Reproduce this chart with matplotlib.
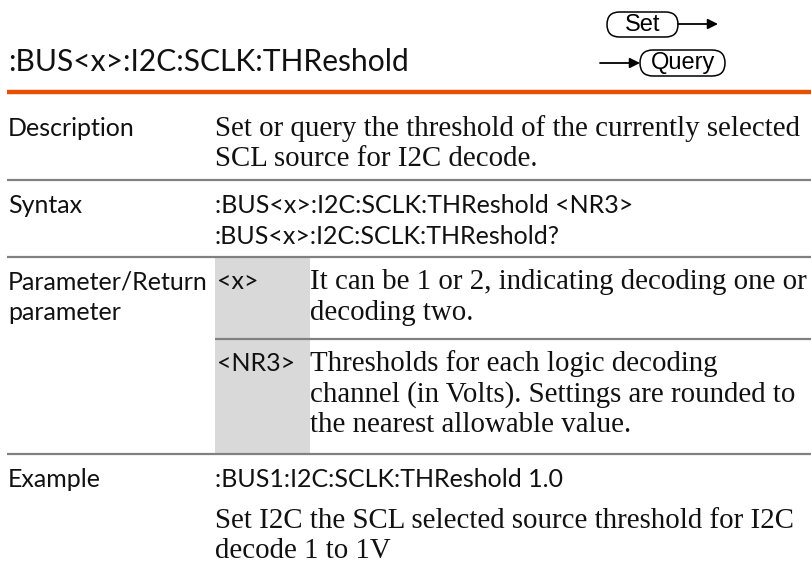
import matplotlib
matplotlib.use("Agg")
import matplotlib.pyplot as plt
from matplotlib.patches import FancyBboxPatch, Rectangle

# page content
title = ":BUS<x>:I2C:SCLK:THReshold"
row_labels = ["Description", "Syntax", "Parameter/Return", "parameter", "Example"]
desc_lines = ["Set or query the threshold of the currently selected",
              "SCL source for I2C decode."]
syntax_lines = [":BUS<x>:I2C:SCLK:THReshold <NR3>",
                ":BUS<x>:I2C:SCLK:THReshold?"]
param_names = ["<x>", "<NR3>"]
param_x_lines = ["It can be 1 or 2, indicating decoding one or",
                 "decoding two."]
param_nr3_lines = ["Thresholds for each logic decoding",
                   "channel (in Volts). Settings are rounded to",
                   "the nearest allowable value."]
example_cmd = ":BUS1:I2C:SCLK:THReshold 1.0"
example_lines = ["Set I2C the SCL selected source threshold for I2C",
                 "decode 1 to 1V"]
tag_set = "Set"
tag_query = "Query"

W, H = 812, 566
SANS = "Lato"
SERIF = "Liberation Serif"
ORANGE = "#E65100"
RULE = "#808080"
CELL = "#D9D9D9"
INK = "#111111"
LS = 30.5  # line spacing in px
SANS_PT = 18
SERIF_PT = 20.8

fig = plt.figure(figsize=(W / 100, H / 100), dpi=100)
ax = fig.add_axes([0, 0, 1, 1])
ax.set_xlim(0, W)
ax.set_ylim(H, 0)
ax.axis('off')


def lines(x, y0, txt, family, size):
    for i, t in enumerate(txt):
        ax.text(x, y0 + i * LS, t, family=family, fontsize=size,
                va='baseline', ha='left', color=INK)


# header
ax.text(8, 71, title, family=SANS, fontsize=21.6, va='baseline', color=INK)
ax.plot([7, W], [92, 92], color=ORANGE, lw=3.2, solid_capstyle='butt')

# set / query tags
ax.add_patch(FancyBboxPatch((607, 12), 71, 25, boxstyle="round,pad=0,rounding_size=12.5",
                            fc='white', ec='black', lw=1.1))
ax.text(643, 25, tag_set, family="Liberation Sans", fontsize=17, ha='center', va='center')
ax.annotate('', xy=(718, 24), xytext=(678, 24),
            arrowprops=dict(arrowstyle='-|>,head_length=0.6,head_width=0.3',
                            color='black', lw=1.3, shrinkA=0, shrinkB=0))
ax.add_patch(FancyBboxPatch((640, 50), 85, 26, boxstyle="round,pad=0,rounding_size=13",
                            fc='white', ec='black', lw=1.1))
ax.text(683, 63, tag_query, family="Liberation Sans", fontsize=17, ha='center', va='center')
ax.annotate('', xy=(640, 63), xytext=(600, 63),
            arrowprops=dict(arrowstyle='-|>,head_length=0.6,head_width=0.3',
                            color='black', lw=1.3, shrinkA=0, shrinkB=0))

# parameter name cell
ax.add_patch(Rectangle((215, 258), 95, 196, fc=CELL, ec='none'))

# rules
for y, x0 in [(180, 7), (257, 7), (339, 215), (454, 7)]:
    ax.plot([x0, W], [y, y], color=RULE, lw=1.6, solid_capstyle='butt')

# left labels
ax.text(8, 136, row_labels[0], family=SANS, fontsize=SANS_PT, va='baseline', color=INK)
ax.text(8, 213, row_labels[1], family=SANS, fontsize=SANS_PT, va='baseline', color=INK)
lines(8, 289, row_labels[2:4], SANS, SANS_PT)
ax.text(8, 487, row_labels[4], family=SANS, fontsize=SANS_PT, va='baseline', color=INK)

# right column
lines(215, 136, desc_lines, SERIF, SERIF_PT)
lines(215, 213, syntax_lines, SANS, SANS_PT)
ax.text(217, 289, param_names[0], family=SANS, fontsize=SANS_PT, va='baseline', color=INK)
lines(310, 289, param_x_lines, SERIF, SERIF_PT)
ax.text(217, 371, param_names[1], family=SANS, fontsize=SANS_PT, va='baseline', color=INK)
lines(310, 371, param_nr3_lines, SERIF, SERIF_PT)
ax.text(215, 487, example_cmd, family=SANS, fontsize=SANS_PT, va='baseline', color=INK)
lines(215, 528, example_lines, SERIF, SERIF_PT)

fig.savefig("out.png", dpi=100)
